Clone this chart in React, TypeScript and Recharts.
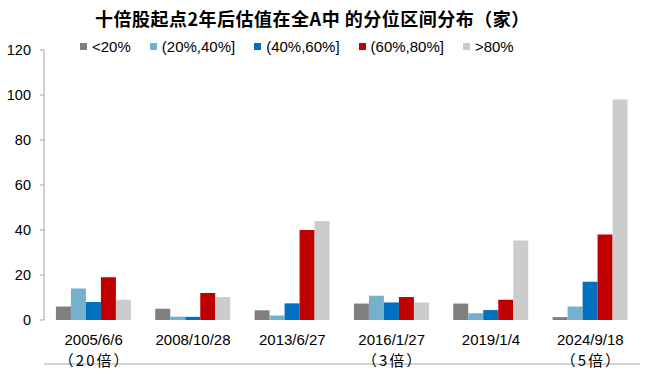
import React from 'react';
import { BarChart, Bar, XAxis, YAxis } from 'recharts';

const dates = ['2005/6/6', '2008/10/28', '2013/6/27', '2016/1/27', '2019/1/4', '2024/9/18'];
const multiples = ['（20倍）', '', '', '（3倍）', '', '（5倍）'];
const below20 = [6, 5, 4.3, 7.3, 7.3, 1.3];
const p20to40 = [14, 1.5, 2, 10.8, 3, 6];
const p40to60 = [8, 1.4, 7.4, 7.8, 4.4, 17];
const p60to80 = [19, 12, 40, 10.2, 9, 38];
const above80 = [9, 10.2, 44, 7.8, 35.3, 98];
const yTicks = [0, 20, 40, 60, 80, 100, 120];
const edgeTicks = [0, 1, 2, 3, 4, 5, 6];

const seriesNames = ['<20%', '(20%,40%]', '(40%,60%]', '(60%,80%]', '>80%'];
const seriesKeys = ['s1', 's2', 's3', 's4', 's5'];
const colors = ['#7f7f7f', '#75b1cc', '#0070c0', '#c00000', '#cccccc'];

const data = dates.map((d, i) => ({
  date: d,
  mult: multiples[i],
  s1: below20[i],
  s2: p20to40[i],
  s3: p40to60[i],
  s4: p60to80[i],
  s5: above80[i],
}));

const FONT = '"Liberation Sans", Arial, "Noto Sans CJK SC", sans-serif';

const XTick = (props: any) => {
  const { x, y, payload, index } = props;
  const mult = multiples[index] ?? '';
  return (
    <g>
      <text x={x} y={y + 17} textAnchor="middle" fontSize={15} fill="#000" fontFamily={FONT}>
        {payload.value}
      </text>
      {mult ? (
        <text
          x={x + 1}
          y={y + 38}
          textAnchor="middle"
          fontSize={15}
          letterSpacing={2}
          fill="#000"
          fontFamily={'"Noto Sans CJK SC", sans-serif'}
        >
          {mult}
        </text>
      ) : null}
    </g>
  );
};

export default function App() {
  return (
    <div style={{ position: 'absolute', left: 0, top: 0, width: 650, height: 375, background: '#fff' }}>
      <div
        style={{
          position: 'absolute',
          left: 95,
          top: 5,
          whiteSpace: 'nowrap',
          fontFamily: '"Noto Sans CJK SC", sans-serif',
          fontWeight: 700,
          fontSize: 18,
          letterSpacing: 0.5,
          color: '#000',
        }}
      >
        十倍股起点2年后估值在全A中 的分位区间分布（家）
      </div>
      <div
        style={{
          position: 'absolute',
          left: 80,
          top: 38,
          whiteSpace: 'nowrap',
          fontFamily: FONT,
          fontSize: 15,
          color: '#000',
          zIndex: 2,
        }}
      >
        {seriesNames.map((n, i) => (
          <span key={n} style={{ display: 'inline-block', marginRight: 19 }}>
            <span
              style={{
                display: 'inline-block',
                width: 7,
                height: 7,
                background: colors[i],
                marginRight: 5,
                verticalAlign: 'middle',
                position: 'relative',
                top: -2,
              }}
            />
            {n}
          </span>
        ))}
      </div>
      <BarChart
        width={650}
        height={375}
        data={data}
        margin={{ top: 50, right: 10, left: 0, bottom: 10 }}
        barCategoryGap="12%"
        barGap={0}
      >
        <XAxis
          xAxisId="edge"
          type="number"
          domain={[0, 6]}
          ticks={edgeTicks}
          tick={false}
          tickSize={5}
          height={1}
          stroke="#a6a6a6"
          allowDataOverflow
        />
        <XAxis
          xAxisId="cat"
          dataKey="date"
          axisLine={false}
          tickLine={false}
          height={44}
          interval={0}
          tick={<XTick />}
        />
        <YAxis
          domain={[0, 120]}
          ticks={yTicks}
          width={44}
          tickSize={4}
          tickMargin={9}
          stroke="#a6a6a6"
          tick={{ fill: '#000', fontSize: 14.5, fontFamily: FONT }}
          interval={0}
        />
        {seriesKeys.map((k, i) => (
          <Bar key={k} xAxisId="cat" dataKey={k} name={seriesNames[i]} fill={colors[i]} isAnimationActive={false} />
        ))}
      </BarChart>
    </div>
  );
}
